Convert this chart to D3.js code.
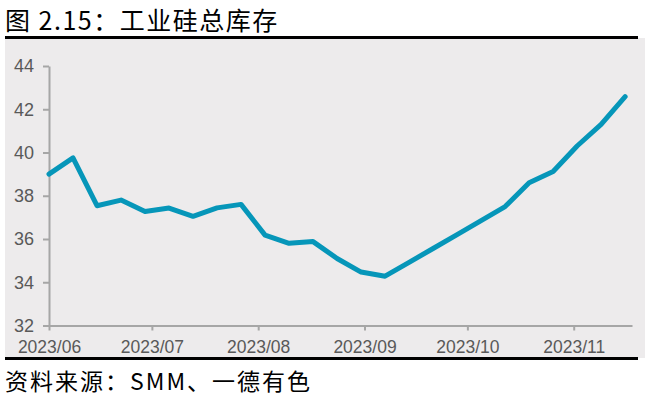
<!DOCTYPE html>
<html lang="zh">
<head>
<meta charset="UTF-8">
<title>工业硅总库存</title>
<script src="https://cdnjs.cloudflare.com/ajax/libs/d3/7.8.5/d3.min.js"></script>
<style>
    body { margin: 0; background: #fff; }
    svg { display: block; }
    .tick text { font-family: "Liberation Sans", Arial, sans-serif; fill: #595959; }
    .cjk { font-family: "Noto Sans CJK SC", sans-serif; fill: #000; }
</style>
</head>
<body>
<svg width="652" height="399"></svg>
<script>
    // weekly samples (Thursday), inventory in 10k tonnes
    const dates = [
        "2023-06-01", "2023-06-08", "2023-06-15", "2023-06-22", "2023-06-29",
        "2023-07-06", "2023-07-13", "2023-07-20", "2023-07-27",
        "2023-08-03", "2023-08-10", "2023-08-17", "2023-08-24", "2023-08-31",
        "2023-09-07", "2023-09-14", "2023-09-21", "2023-09-28",
        "2023-10-05", "2023-10-12", "2023-10-19", "2023-10-26",
        "2023-11-02", "2023-11-09", "2023-11-16"
    ];
    const inventory = [
        39.0, 39.75, 37.54, 37.8, 37.27,
        37.43, 37.05, 37.44, 37.6,
        36.18, 35.8, 35.88, 35.1, 34.47,
        34.28, 34.92, 35.56, 36.2,
        36.85, 37.5, 38.6, 39.12,
        40.3, 41.3, 42.58
    ];
    const yTicks = [32, 34, 36, 38, 40, 42, 44];
    const title = "图 2.15：工业硅总库存";
    const source = "资料来源：SMM、一德有色";

    const parse = d3.timeParse("%Y-%m-%d");
    const data = dates.map((d, i) => ({ date: parse(d), value: inventory[i] }));

    const svg = d3.select("svg");

    // panel background + rules
    svg.append("rect").attr("x", 5).attr("y", 38).attr("width", 640).attr("height", 320).attr("fill", "#edebec");
    svg.append("rect").attr("x", 5).attr("y", 36).attr("width", 633).attr("height", 3).attr("fill", "#000");
    svg.append("rect").attr("x", 5).attr("y", 357).attr("width", 633).attr("height", 3).attr("fill", "#000");

    svg.append("text").attr("class", "cjk").attr("x", 5).attr("y", 30)
        .attr("font-size", 25).attr("letter-spacing", 1.5).text(title);
    svg.append("text").attr("class", "cjk").attr("x", 5).attr("y", 390)
        .attr("font-size", 23).attr("letter-spacing", 2).text(source);

    const x = d3.scaleTime()
        .domain([parse("2023-06-01"), parse("2023-11-18")])
        .range([49, 632]);
    const y = d3.scaleLinear().domain([32, 44]).range([325.5, 66]);

    const xAxis = d3.axisBottom(x)
        .ticks(d3.timeMonth.every(1))
        .tickFormat(d3.timeFormat("%Y/%m"))
        .tickSizeInner(5).tickSizeOuter(0).tickPadding(10);
    const gx = svg.append("g").attr("transform", `translate(0,${y(32)})`).call(xAxis);
    gx.selectAll(".tick text").attr("font-size", 17.5);

    const yAxis = d3.axisLeft(y).tickValues(yTicks)
        .tickSizeInner(6).tickSizeOuter(0).tickPadding(9);
    const gy = svg.append("g").attr("transform", `translate(${x.range()[0]},0)`).call(yAxis);
    gy.selectAll(".tick text").attr("font-size", 18);

    [gx, gy].forEach(g => {
        g.select(".domain").attr("stroke", "#a6a6a6").attr("stroke-width", 2);
        g.selectAll(".tick line").attr("stroke", "#a6a6a6").attr("stroke-width", 2);
    });

    const line = d3.line().x(d => x(d.date)).y(d => y(d.value));
    svg.append("path")
        .datum(data)
        .attr("d", line)
        .attr("fill", "none")
        .attr("stroke", "#0696b9")
        .attr("stroke-width", 5)
        .attr("stroke-linejoin", "round")
        .attr("stroke-linecap", "round");
</script>
</body>
</html>
